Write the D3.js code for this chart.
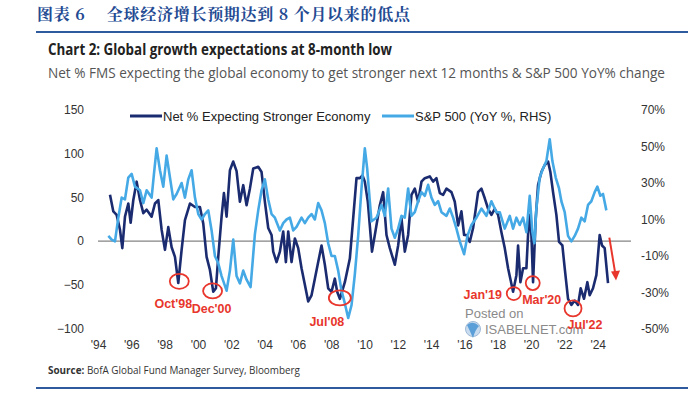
<!DOCTYPE html>
<html>
<head>
<meta charset="utf-8">
<script src="https://cdn.jsdelivr.net/npm/d3@7"></script>
<style>
  html, body { margin: 0; padding: 0; background: #fff; }
  svg { display: block; }
</style>
</head>
<body>
<svg id="chart" width="688" height="393"></svg>
<script>
// Net % of FMS expecting a stronger global economy (left axis)
const netYears = [1994.72, 1994.92, 1995.12, 1995.32, 1995.46, 1995.62, 1995.82, 1995.96, 1996.12, 1996.32,
  1996.52, 1996.72, 1996.92, 1997.22, 1997.42, 1997.62, 1997.82, 1998.02, 1998.22, 1998.42,
  1998.62, 1998.82, 1999.02, 1999.22, 1999.52, 1999.82, 2000.12, 2000.32, 2000.52, 2000.72,
  2000.92, 2001.08, 2001.22, 2001.42, 2001.56, 2001.72, 2001.92, 2002.12, 2002.32, 2002.52,
  2002.72, 2002.92, 2003.12, 2003.32, 2003.62, 2003.82, 2004.02, 2004.22, 2004.42, 2004.52,
  2004.72, 2004.92, 2005.12, 2005.28, 2005.42, 2005.62, 2005.82, 2006.02, 2006.22, 2006.42,
  2006.62, 2006.82, 2007.02, 2007.22, 2007.42, 2007.62, 2007.82, 2008.02, 2008.22, 2008.36,
  2008.52, 2008.82, 2009.12, 2009.32, 2009.52, 2009.72, 2009.88, 2010.02, 2010.2, 2010.45,
  2010.62, 2010.92, 2011.12, 2011.32, 2011.52, 2011.82, 2012.02, 2012.22, 2012.42, 2012.62,
  2012.82, 2013.02, 2013.22, 2013.42, 2013.62, 2013.92, 2014.12, 2014.32, 2014.52, 2014.72,
  2014.92, 2015.22, 2015.42, 2015.62, 2015.82, 2015.98, 2016.12, 2016.32, 2016.52, 2016.82,
  2017.02, 2017.22, 2017.42, 2017.62, 2017.82, 2018.02, 2018.22, 2018.42, 2018.62, 2018.92,
  2019.12, 2019.22, 2019.36, 2019.52, 2019.72, 2019.88, 2020.02, 2020.12, 2020.28, 2020.42,
  2020.62, 2020.82, 2021.02, 2021.16, 2021.32, 2021.52, 2021.68, 2021.88, 2022.02, 2022.22,
  2022.42, 2022.62, 2022.82, 2022.98, 2023.18, 2023.38, 2023.52, 2023.72, 2023.92, 2024.12,
  2024.26, 2024.42, 2024.62];
const netValues = [53, 34, 30, 13, -8, 28, 43, 21, 47, 68,
  47, 32, 36, 28, 43, 47, 13, -10, 16, -7,
  -18, -48, -10, 24, 43, 39, 39, 20, -18, -33,
  -58, -54, -18, 28, 55, 28, 81, 91, 80, 45,
  64, 41, 60, 83, 85, 79, 45, 15, 7, -12,
  -24, -12, 11, -24, 11, -24, 3, -8, -31, -50,
  -69, -62, -43, -24, -5, -27, -54, -58, -43, -58,
  -66, -47, -20, 26, 72, 72, 75, 68, 45, -12,
  7, 41, 56, 7, -8, -27, -5, 26, -12, 7,
  53, 60, 45, 68, 72, 74, 68, 72, 55, 53,
  60, 56, 45, 18, 34, 7, 7, -1, 15, 56,
  60, 49, 37, 30, 37, 30, 10, -8, -31, -58,
  -39, -5, -47, -31, -31, 30, 7, -47, 26, 64,
  79, 87, 91, 79, 56, 30, -1, -5, -31, -66,
  -73, -68, -73, -54, -66, -47, -62, -54, -39, 7,
  -5, -8, -48];

// S&P 500 YoY % (right axis)
const spxYears = [1994.62, 1994.82, 1995.02, 1995.22, 1995.42, 1995.62, 1995.82, 1996.02, 1996.22, 1996.52,
  1996.72, 1996.92, 1997.22, 1997.36, 1997.52, 1997.72, 1997.92, 1998.12, 1998.32, 1998.52,
  1998.72, 1999.02, 1999.22, 1999.42, 1999.62, 1999.82, 2000.02, 2000.22, 2000.42, 2000.62,
  2000.82, 2001.02, 2001.22, 2001.42, 2001.72, 2001.92, 2002.12, 2002.32, 2002.52, 2002.72,
  2002.92, 2003.16, 2003.42, 2003.62, 2003.82, 2004.02, 2004.22, 2004.42, 2004.62, 2004.92,
  2005.12, 2005.32, 2005.52, 2005.72, 2005.92, 2006.22, 2006.42, 2006.62, 2006.82, 2007.02,
  2007.22, 2007.42, 2007.62, 2007.82, 2008.02, 2008.22, 2008.42, 2008.62, 2008.82, 2009.02,
  2009.22, 2009.42, 2009.62, 2009.82, 2010.02, 2010.16, 2010.32, 2010.42, 2010.72, 2011.02,
  2011.22, 2011.42, 2011.62, 2011.82, 2012.02, 2012.22, 2012.42, 2012.62, 2012.82, 2013.02,
  2013.22, 2013.42, 2013.62, 2013.82, 2014.02, 2014.22, 2014.42, 2014.62, 2014.92, 2015.12,
  2015.32, 2015.52, 2015.72, 2015.98, 2016.18, 2016.42, 2016.72, 2017.02, 2017.32, 2017.62,
  2017.92, 2018.12, 2018.42, 2018.72, 2018.92, 2019.12, 2019.32, 2019.52, 2019.72, 2019.92,
  2020.08, 2020.2, 2020.32, 2020.52, 2020.72, 2020.92, 2021.12, 2021.28, 2021.48, 2021.68,
  2021.82, 2022.02, 2022.22, 2022.42, 2022.62, 2022.82, 2023.02, 2023.22, 2023.42, 2023.62,
  2023.82, 2023.98, 2024.16, 2024.32, 2024.52];
const spxValues = [1, -1, -2, 11, 22, 21, 33, 35, 28, 26,
  19, 26, 22, 35, 49, 37, 28, 45, 33, 21,
  24, 30, 22, 32, 37, 22, 13, 10, 13, 15,
  4, -10, -14, -21, -29, -18, -1, -21, -25, -18,
  -23, -27, 2, 15, 26, 32, 21, 13, 11, 4,
  8, 10, 11, 4, 6, 11, 8, 11, 13, 10,
  19, 15, 8, -3, -10, -10, -18, -29, -36, -44,
  -37, -20, 1, 27, 49, 38, 20, 9, 11, 18,
  12, 27, 5, 0, 5, 12, 11, 27, 12, 14,
  20, 25, 23, 29, 22, 18, 20, 14, 12, 16,
  11, 5, -2, -9, 1, 7, 11, 16, 12, 20,
  14, 14, 5, 12, 5, 11, 7, 11, 3, 23,
  3, -3, 16, 33, 38, 42, 54, 42, 33, 27,
  20, 14, 1, -2, 1, 5, 11, 9, 18, 20,
  25, 28, 23, 24, 15];

const leftTicks = [-100, -50, 0, 50, 100, 150];
const rightTicks = [-50, -30, -10, 10, 30, 50, 70];
const yearTicks = d3.range(1994, 2025, 2);

// marked lows on the net % series
const lows = [
  { label: "Oct'98", year: 1998.88, value: -46 },
  { label: "Dec'00", year: 2000.88, value: -57 },
  { label: "Jul'08", year: 2008.52, value: -65 },
  { label: "Jan'19", year: 2018.96, value: -60 },
  { label: "Mar'20", year: 2020.1, value: -48 },
  { label: "Jul'22", year: 2022.52, value: -77 }
];

const svg = d3.select("#chart");
const navy = "#1b2b70";
const sky = "#45a9e6";
const red = "#e8362c";
const ruleBlue = "#2f5a9e";

const x = d3.scaleLinear().domain([1994, 2026]).range([98, 631]);
const yL = d3.scaleLinear().domain([-100, 150]).range([328.5, 110]);
const yR = d3.scaleLinear().domain([-50, 70]).range([329, 110]);

// header
svg.append("text")
  .attr("x", 37).attr("y", 20)
  .attr("textLength", 373).attr("lengthAdjust", "spacing")
  .style("font-family", "'Noto Serif CJK SC', 'Noto Sans CJK SC', serif")
  .style("font-weight", "bold")
  .style("font-size", "16px")
  .style("fill", "#234a92")
  .text("图表 6　 全球经济增长预期达到 8 个月以来的低点");

svg.append("line")
  .attr("x1", 36).attr("x2", 688)
  .attr("y1", 32).attr("y2", 32)
  .style("stroke", ruleBlue).style("stroke-width", 2);

svg.append("text")
  .attr("x", 48).attr("y", 55)
  .attr("textLength", 344).attr("lengthAdjust", "spacingAndGlyphs")
  .style("font-family", "'Open Sans', sans-serif")
  .style("font-weight", "bold")
  .style("font-size", "16px")
  .style("fill", "#222")
  .text("Chart 2: Global growth expectations at 8-month low");

svg.append("text")
  .attr("x", 48).attr("y", 78)
  .attr("textLength", 617).attr("lengthAdjust", "spacingAndGlyphs")
  .style("font-family", "'Open Sans', sans-serif")
  .style("font-size", "14px")
  .style("fill", "#555")
  .text("Net % FMS expecting the global economy to get stronger next 12 months & S&P 500 YoY% change");

// axes
const axisFont = (sel) => sel
  .style("font-family", "'Liberation Sans', Arial, sans-serif")
  .style("font-size", "12px")
  .style("fill", "#333");

const leftAxis = svg.append("g")
  .attr("transform", "translate(84,0)")
  .call(d3.axisLeft(yL).tickValues(leftTicks).tickSize(0).tickPadding(0));
leftAxis.select(".domain").remove();
leftAxis.selectAll("text").call(axisFont);

const rightAxis = svg.append("g")
  .attr("transform", "translate(641,0)")
  .call(d3.axisRight(yR).tickValues(rightTicks).tickSize(0).tickPadding(0)
    .tickFormat((d) => d + "%"));
rightAxis.select(".domain").remove();
rightAxis.selectAll("text").call(axisFont);

const bottomAxis = svg.append("g")
  .attr("transform", "translate(0,340)")
  .call(d3.axisBottom(x).tickValues(yearTicks).tickSize(0).tickPadding(0)
    .tickFormat((d) => "'" + String(d).slice(2)));
bottomAxis.select(".domain").remove();
bottomAxis.selectAll("text").call(axisFont);

// zero line
svg.append("line")
  .attr("x1", x(1994)).attr("x2", x(2026))
  .attr("y1", yL(0)).attr("y2", yL(0))
  .style("stroke", "#666").style("stroke-width", 1);

// watermark
const mark = svg.append("g");
mark.append("text")
  .attr("x", 465).attr("y", 318)
  .style("font-family", "'Liberation Sans', Arial, sans-serif")
  .style("font-size", "13px").style("fill", "#8a8a8a")
  .text("Posted on");
mark.append("circle")
  .attr("cx", 473).attr("cy", 329).attr("r", 7.5)
  .style("fill", "#c9dcef").style("stroke", "#9fb9d6").style("stroke-width", 1);
mark.append("path")
  .attr("d", "M467,325 Q473,320 479,326 Q475,330 473,338 Q470,331 467,325 Z")
  .style("fill", "#5b9fd8");
mark.append("text")
  .attr("x", 485).attr("y", 334)
  .style("font-family", "'Liberation Sans', Arial, sans-serif")
  .style("font-size", "13px").style("fill", "#8a8a8a")
  .text("ISABELNET.com");

// series
const netData = netYears.map((yr, i) => [yr, netValues[i]]);
const spxData = spxYears.map((yr, i) => [yr, spxValues[i]]);

svg.append("path")
  .datum(netData)
  .attr("d", d3.line().x((d) => x(d[0])).y((d) => yL(d[1])))
  .style("fill", "none").style("stroke", navy)
  .style("stroke-width", 2.6).style("stroke-linejoin", "round");

svg.append("path")
  .datum(spxData)
  .attr("d", d3.line().x((d) => x(d[0])).y((d) => yR(d[1])))
  .style("fill", "none").style("stroke", sky)
  .style("stroke-width", 2.6).style("stroke-linejoin", "round");

// legend
const legend = svg.append("g").attr("transform", "translate(0,116)");
[
  { name: "Net % Expecting Stronger Economy", color: navy, x0: 130 },
  { name: "S&P 500 (YoY %, RHS)", color: sky, x0: 382 }
].forEach((item) => {
  legend.append("line")
    .attr("x1", item.x0).attr("x2", item.x0 + 32)
    .attr("y1", 0).attr("y2", 0)
    .style("stroke", item.color).style("stroke-width", 3);
  legend.append("text")
    .attr("x", item.x0 + 33).attr("y", 0).attr("dy", "0.35em")
    .style("font-family", "'Liberation Sans', Arial, sans-serif")
    .style("font-size", "13px").style("fill", "#222")
    .text(item.name);
});

// red circles and labels on the lows
const lowLayout = {
  "Oct'98": { rx: 9.5, ry: 7.5, dx: -6, dy: 22 },
  "Dec'00": { rx: 9.5, ry: 7.5, dx: -1, dy: 18 },
  "Jul'08": { rx: 11, ry: 7.5, dx: -13, dy: 24 },
  "Jan'19": { rx: 7, ry: 6.5, dx: -31, dy: 1 },
  "Mar'20": { rx: 7, ry: 7, dx: 9, dy: 17 },
  "Jul'22": { rx: 8.5, ry: 8, dx: 12, dy: 16 }
};

const lowGrp = svg.append("g");
lows.forEach((d) => {
  const lay = lowLayout[d.label];
  const cx = x(d.year);
  const cy = yL(d.value);
  lowGrp.append("ellipse")
    .attr("cx", cx).attr("cy", cy)
    .attr("rx", lay.rx).attr("ry", lay.ry)
    .style("fill", "none").style("stroke", red).style("stroke-width", 1.8);
  lowGrp.append("text")
    .attr("x", cx + lay.dx).attr("y", cy + lay.dy).attr("dy", "0.35em")
    .style("text-anchor", "middle")
    .style("font-family", "'Liberation Sans', Arial, sans-serif")
    .style("font-weight", "bold")
    .style("font-size", "12.5px")
    .style("fill", red)
    .text(d.label);
});

// red arrow pointing down after the last reading
const arrowTop = [x(2024.7), yL(4)];
const arrowTip = [x(2025.1), yL(-45)];
svg.append("line")
  .attr("x1", arrowTop[0]).attr("y1", arrowTop[1])
  .attr("x2", arrowTip[0] - 0.6).attr("y2", arrowTip[1] - 6)
  .style("stroke", red).style("stroke-width", 2);
svg.append("path")
  .attr("d", `M${arrowTip[0] - 5},${arrowTip[1] - 9} L${arrowTip[0] + 4},${arrowTip[1] - 10} L${arrowTip[0]},${arrowTip[1]} Z`)
  .style("fill", red);

// footer
const src = svg.append("text")
  .attr("x", 48).attr("y", 374)
  .attr("textLength", 252).attr("lengthAdjust", "spacingAndGlyphs")
  .style("font-family", "'Open Sans', sans-serif")
  .style("font-size", "10.5px")
  .style("fill", "#333");
src.append("tspan").style("font-weight", "bold").text("Source:");
src.append("tspan").text(" BofA Global Fund Manager Survey, Bloomberg");

svg.append("line")
  .attr("x1", 36).attr("x2", 688)
  .attr("y1", 388).attr("y2", 388)
  .style("stroke", ruleBlue).style("stroke-width", 2);
</script>
</body>
</html>
